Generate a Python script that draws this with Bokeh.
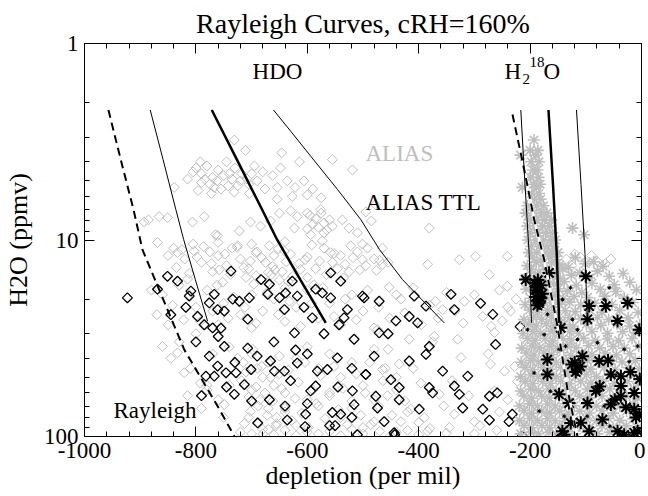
from bokeh.plotting import figure
from bokeh.models import Range1d, FixedTicker, PrintfTickFormatter, LinearAxis, LogAxis, CustomJSTickFormatter
from bokeh.core.properties import value
from bokeh.embed import file_html
from bokeh.resources import INLINE
import numpy as np

FONT = "Liberation Serif"
GRAY = "#bebebe"

# ---------------- axes ticks ----------------
x_major_ticks = [-1000, -800, -600, -400, -200, 0]
x_minor_ticks = list(range(-1000, 1, 40))
y_major_ticks = [1, 10, 100]
y_minor_ticks = [2, 3, 4, 5, 6, 7, 8, 9, 20, 30, 40, 50, 60, 70, 80, 90]

# ---------------- Rayleigh curves (HDO) ----------------
hdo_rayleigh_x = [-957, -935, -912, -896, -866, -821, -761, -731]
hdo_rayleigh_y = [2.18, 3.89, 7.0, 11.2, 17.9, 36.1, 70.1, 99.7]
hdo_c1_x = [-882, -859, -836, -822, -801, -779]
hdo_c1_y = [2.18, 3.89, 7.0, 9.94, 15.9, 25.9]
hdo_c2_x = [-771.5, -726.6, -681.2, -654.4, -612.6, -566.8]
hdo_c2_y = [2.18, 3.89, 7.0, 9.94, 15.9, 26.4]
hdo_c3_x = [-660.7, -629.6, -593.7, -545.8, -504, -470.4, -429.1, -354.2]
hdo_c3_y = [2.18, 2.80, 3.75, 5.53, 7.87, 11.18, 15.9, 26.4]

# ---------------- Rayleigh curves (H2 18O) ----------------
o18_rayleigh_x = [-231.6, -210.6, -192.7, -174.7, -150.8, -132.9, -114.9]
o18_rayleigh_y = [2.30, 4.38, 7.87, 12.6, 27.5, 57.7, 100]
o18_c1_x = [-216.7, -209.2, -201.6, -197.5]
o18_c1_y = [2.18, 5.22, 11.85, 26.4]
o18_c2_x = [-167, -158.9, -152.1, -147.8]
o18_c2_y = [2.18, 5.22, 11.85, 26.4]
o18_c3_x = [-116.7, -108.6, -101.4, -97]
o18_c3_y = [2.18, 5.22, 11.85, 26.4]

# ---------------- ALIAS HDO (gray diamonds) ----------------
hdo_alias_x = [
    -731, -711, -646, -614, -555, -519, -792,
    -800, -790, -780, -770, -760, -775, -755, -790, -745, -735, -720, -705,
    -740, -725, -695, -680, -700, -654, -704, -731, -839, -767, -654, -627, -600,
    -866, -893, -885, -851, -806, -785, -761, -722, -702, -684, -666, -650, -630, -618, -600,
    -595, -585, -575, -570, -560, -580, -565, -590, -576, -555, -600, -570,
    -623, -537, -525, -510, -501, -522, -594, -573, -558, -495, -485, -478, -381,
    -869, -833, -803, -765, -725, -693, -668, -641,
    -840, -820, -805, -790, -775, -760, -745, -735, -720, -705, -690, -675, -660, -645, -630, -615,
    -600, -585, -570, -555, -540, -525, -510, -495, -480, -465, -770, -710, -650, -600,
    -760, -700, -640, -665, -672, -658,
    -860, -830, -800, -780, -750, -720, -700, -680, -660, -640, -620, -600, -580, -560, -540, -520, -500, -480, -760, -700, -640,
    -830, -800, -770, -740, -715, -700, -690, -680, -670, -660, -650, -640, -700, -685, -670,
    -655, -690, -670, -640, -620, -600, -580, -560, -540, -520, -500, -480, -600, -580, -560,
    -540, -520, -500, -480, -620, -600, -460, -440, -420, -400, -440, -720, -750, -810, -780,
    -860, -833, -821, -792, -780, -749, -713, -702,
    -700, -680, -660, -640, -620, -600, -580, -560, -540, -520, -500, -470, -450, -420, -400, -380, -350, -300, -260,
    -501, -465, -384, -327, -298, -241, -273, -241, -453, -432, -370, -318, -235, -357, -250, -474, -417, -372,
    -330, -264, -210, -324, -435, -271, -465, -246, -223, -396, -363, -264, -300, -336, -414, -432, -486, -384,
    -135, -120, -110, -100, -90, -80, -65, -55, -40, -125,
    -850, -835, -825, -812, -798, -786, -772, -758, -748, -738, -726, -714, -702, -692, -682, -670, -662, -652, -638, -626,
    -612, -604, -592, -578, -566, -552, -546, -532, -518, -506, -492, -476, -470, -455, -815, -752, -696, -634, -588, -535,
    -815, -805, -796, -784, -772, -762, -750, -742, -730, -718, -708, -690, -676, -662, -648, -636, -622, -606, -590, -575,
    -880, -870, -850, -842, -822, -812, -792, -770, -762, -742, -732, -712, -692, -672, -652, -632, -612, -592, -572, -552,
    -532, -512, -492, -472, -452, -440, -425, -410, -395, -380, -365, -350, -335, -320, -300, -285, -270, -255, -240, -225,
    -725, -718, -710, -705, -698, -692, -688, -682, -676, -672, -666, -662, -656, -650, -646, -640, -634, -628, -622, -616,
    -610, -604, -598, -590, -584, -576, -568, -560, -552, -544, -536, -528, -520, -512, -504, -496, -488, -480, -472, -464,
    -456, -448, -740, -760, -790, -815, -845, -705, -680, -655,
    -455, -440, -425, -410, -390, -375, -355, -340, -310, -290, -275, -255, -240, -228, -345,
]
hdo_alias_y = [
    3.1, 3.5, 3.6, 4.0, 3.9, 4.4, 4.0,
    4.3, 4.6, 4.2, 4.8, 4.4, 5.2, 5.5, 5.1, 4.0, 4.9, 5.0, 5.2,
    4.6, 5.3, 4.2, 4.5, 4.6, 5.4, 5.8, 5.7, 5.4, 5.4, 6.2, 6.0, 5.9,
    7.6, 8.1, 7.9, 7.7, 8.1, 7.6, 9.5, 9.0, 8.1, 8.5, 8.0, 7.3, 7.1, 7.6, 7.3,
    7.5, 7.8, 7.3, 8.2, 7.9, 8.6, 8.9, 8.3, 7.0, 8.5, 8.8, 9.2,
    8.7, 7.9, 8.7, 9.2, 10.5, 10.7, 9.4, 10.1, 11.6, 7.2, 8.0, 6.6, 8.7,
    10.3, 11.6, 11.4, 9.4, 10.7, 11.6, 10.7, 11.4,
    11.0, 12.5, 10.5, 13.0, 11.5, 12.0, 13.5, 11.0, 12.5, 14.0, 11.5, 13.0, 12.0, 14.5, 11.8, 13.2,
    12.2, 14.0, 11.0, 13.0, 12.0, 14.5, 11.5, 13.5, 12.5, 11.0, 14.5, 15.5, 16.0, 15.5,
    10.3, 10.5, 10.2, 15.0, 16.5, 14.2,
    19, 17, 22, 18, 21, 24, 19, 23, 20, 26, 22, 18, 25, 21, 27, 19, 23, 28, 27, 28, 17.5,
    33, 30, 38, 35, 42, 38, 45, 50, 42, 55, 48, 60, 58, 65, 72,
    80, 85, 92, 75, 40, 35, 45, 38, 50, 42, 55, 36, 65, 70, 60,
    80, 72, 90, 65, 88, 95, 45, 58, 75, 85, 95, 95, 80, 45, 55,
    34.8, 37.5, 47.4, 53.5, 58, 68.8, 86, 74.5,
    97, 92, 98, 93, 99, 91, 97, 94, 99, 92, 97, 94, 99, 93, 98, 91, 96, 97, 93,
    12.6, 13.3, 13.3, 12.6, 12.1, 12.1, 15.0, 17.2, 17.4, 20.0, 20.5, 20.5, 23.0, 22.6, 25.8, 28.6, 32.0, 30.9,
    32.0, 29.6, 32.0, 39.6, 42.8, 42.8, 45.6, 46.5, 52.4, 53.5, 61.0, 58.6, 84.0, 77.0, 72.6, 84.0, 87.0, 94.0,
    12.5, 11.8, 12.2, 13.0, 12.0, 12.8, 13.2, 12.5, 18.5, 13.5,
    12.0, 13.8, 11.2, 14.8, 12.2, 10.8, 13.2, 14.2, 11.8, 15.0, 10.9, 13.8, 12.8, 15.2, 12.3, 14.6, 13.6, 11.1, 12.9, 15.3,
    14.1, 12.6, 10.6, 12.8, 15.0, 11.7, 14.0, 13.3, 12.3, 14.2, 11.0, 14.3, 12.7, 13.0, 15.8, 16.4, 16.8, 16.2, 16.9, 15.6,
    4.9, 4.5, 5.6, 4.9, 5.8, 5.0, 4.7, 5.3, 4.3, 4.6, 4.9, 5.0, 5.5, 4.7, 4.3, 5.0, 5.4, 5.0, 5.5, 6.1,
    18.0, 24.0, 27.0, 21.5, 25.5, 19.0, 26.0, 23.0, 17.0, 25.0, 19.5, 22.0, 26.5, 18.5, 24.0, 20.5, 27.5, 21.0, 17.5, 24.5,
    20.0, 25.5, 18.0, 22.0, 25.0, 19.0, 23.5, 17.5, 27.0, 21.5, 25.0, 18.5, 23.0, 26.5, 19.0, 24.5, 27.5, 18.0, 22.0, 20.0,
    40, 52, 47, 63, 36, 56, 70, 44, 60, 78, 50, 66, 88, 39, 57, 72, 46, 83, 64, 53,
    76, 42, 90, 58, 68, 49, 81, 62, 44, 73, 57, 87, 66, 48, 78, 60, 42, 84, 70, 52,
    62, 78, 55, 65, 72, 62, 40, 80, 97, 86,
    36, 50, 66, 45, 80, 33, 70, 52, 62, 88, 38, 75, 65, 44, 90,
]

# ---------------- ALIAS TTL HDO (black diamonds) ----------------
hdo_ttl_x = [
    -923, -851, -833, -869, -809, -812, -818, -797, -776, -767, -785, -770,
    -761, -749, -737, -734, -755, -722, -704, -707, -683, -668, -671, -650,
    -641, -639, -618, -627, -606, -591, -585, -573, -558, -558, -540, -528,
    -534, -543, -501, -516, -623, -707, -749, -776, -761, -782, -767, -746,
    -728, -731, -713, -701, -666, -659, -668, -641, -618, -621, -594, -585,
    -582, -564, -546, -555, -540, -516, -519, -495, -477, -689, -636, -603, -550,
    -498, -471, -408, -387, -342, -336, -289, -267, -441, -417, -402, -218,
    -471, -381, -387, -262, -417, -495, -450, -435, -435, -357, -336, -327,
    -312, -381, -375, -273, -259, -474, -462, -399, -321, -285, -273, -238, -232, -444, -214,
    -510, -443, -604,
    -845, -800, -760, -730, -690, -660, -630, -600, -570, -545,
    -520, -480, -455, -790, -745, -700, -640, -600, -560, -520,
]
hdo_ttl_y = [
    19.7, 15.3, 16.2, 17.8, 18.2, 19.3, 22.0, 24.5, 20.9, 18.9, 27.0, 28.0,
    22.6, 23.0, 14.4, 20.0, 28.1, 20.5, 19.7, 25.3, 15.9, 16.8, 18.9, 19.7,
    22.6, 18.6, 19.3, 16.2, 22.0, 24.9, 17.8, 18.6, 19.7, 14.7, 16.2, 22.6,
    24.9, 27.0, 19.3, 32.0, 29.7, 35.5, 34.8, 39.0, 43.8, 49.3, 49.3, 47.4,
    47.4, 61.0, 54.4, 45.6, 41.3, 46.5, 65.0, 46.5, 42.3, 36.3, 58.6, 55.3,
    46.5, 45.6, 39.8, 75.5, 77.0, 68.8, 58.6, 48.3, 62.4, 85.3, 82.5, 77.0, 88.0,
    19.7, 20.5, 19.3, 21.7, 18.9, 22.6, 21.0, 23.9, 25.8, 24.5, 26.4, 27.6,
    29.7, 34.8, 38.2, 34.0, 41.3, 48.3, 51.4, 56.3, 65.0, 46.5, 55.3, 61.0,
    49.3, 56.3, 60.0, 62.4, 60.0, 71.6, 84.0, 72.6, 71.6, 72.6, 82.5, 84.0, 77.0, 95.7, 99.5,
    98.0, 98.0, 89.0,
    24, 33, 31, 42, 39, 33, 52, 38, 30, 56,
    45, 39, 30, 62, 56, 66, 70, 68, 88, 80,
]

# ---------------- ALIAS H2 18O (gray asterisks) ----------------
o18_alias_x = [
    -193, -200, -186, -217, -190, -198, -184, -195, -187, -199, -185,
    -194, -182, -214, -189, -197, -184, -192, -181,
    -205, -188, -176,
    -208, -195, -180, -170,
    -201, -188, -174, -162,
    -205, -192, -178, -165, -124,
    -200, -186, -172, -160, -103,
    -204, -190, -176, -163, -155,
    -198, -183, -169, -158,
    -202, -188, -174, -160, -150,
    -196, -181, -166, -153, -119, -86,
    -205, -189, -175, -161, -147, -131, -101, -69,
    -198, -184, -169, -154, -141, -111, -79, -33,
    -206, -191, -176, -159, -146, -126, -94, -58,
    -201, -185, -171, -157, -139, -117, -89, -49, -21,
    -207, -193, -177, -163, -149, -133, -107, -74, -46, -9,
    -199, -184, -171, -154, -141, -121, -97, -66, -31,
    -209, -193, -179, -161, -147, -129, -109, -84, -53, -16,
    -201, -187, -169, -155, -137, -119, -94, -71, -39, -6,
    -211, -194, -179, -161, -147, -129, -109, -79, -59, -24,
    -203, -189, -171, -157, -139, -123, -99, -73, -44, -21, -3,
    -213, -195, -181, -163, -149, -129, -113, -89, -61, -34, -11,
    -205, -191, -173, -159, -141, -126, -104, -83, -61, -41, -17,
    -215, -197, -183, -165, -151, -133, -117, -95, -75, -51, -31, -5,
    -207, -193, -175, -161, -143, -127, -107, -89, -65, -45, -21,
    -216, -199, -185, -167, -153, -135, -119, -97, -79, -55, -35, -11,
    -209, -195, -177, -163, -145, -129, -109, -91, -67, -47, -23, -4,
    -217, -199, -185, -167, -153, -135, -119, -99, -81, -57, -37, -13,
    -209, -195, -177, -163, -145, -129, -109, -91, -69, -49, -25, -6,
    -217, -199, -185, -167, -153, -135, -119, -97, -79, -57, -37, -14,
    -211, -197, -179, -165, -147, -131, -111, -93, -71, -51, -27, -7,
    -219, -201, -187, -169, -155, -137, -121, -99, -81, -59, -39, -15,
    -211, -197, -179, -165, -147, -131, -111, -93, -71, -51, -27, -7,
    -219, -201, -187, -169, -155, -137, -121, -99, -81, -59, -39, -15,
    -211, -197, -179, -165, -147, -131, -111, -93, -71, -51, -27, -7,
    -217, -199, -185, -167, -153, -135, -119, -97, -79, -57, -37, -14,
]
o18_alias_y = [
    3.1, 3.5, 3.5, 3.7, 3.7, 4.0, 4.0, 4.4, 4.4, 4.8, 4.8,
    5.2, 5.2, 5.4, 5.4, 5.8, 5.8, 6.2, 6.2,
    6.7, 6.7, 6.7,
    7.3, 7.3, 7.3, 7.3,
    7.9, 7.9, 7.9, 7.9,
    8.5, 8.5, 8.5, 8.5, 8.7,
    9.2, 9.2, 9.2, 9.2, 9.4,
    10.0, 10.0, 10.0, 10.0, 10.0,
    10.8, 10.8, 10.8, 10.8,
    11.6, 11.6, 11.6, 11.6, 11.6,
    12.2, 12.7, 12.1, 12.6, 12.3, 12.9,
    13.5, 13.0, 13.6, 13.1, 13.4, 13.8, 13.2, 13.6,
    14.1, 14.6, 14.2, 14.5, 14.0, 14.7, 14.4, 14.8,
    15.6, 15.2, 15.8, 15.3, 15.7, 15.1, 15.6, 15.3,
    16.4, 16.9, 16.5, 16.8, 16.3, 17.0, 16.6, 16.9, 16.4,
    17.8, 18.3, 17.9, 18.4, 17.7, 18.2, 18.5, 17.8, 18.3, 17.9,
    19.8, 19.3, 19.7, 19.2, 19.9, 19.4, 19.6, 19.3, 19.8,
    21.3, 20.8, 21.4, 20.9, 21.2, 20.7, 21.4, 21.0, 21.3, 20.8,
    22.7, 23.3, 22.8, 23.4, 22.9, 23.2, 22.6, 23.3, 22.8, 23.4,
    25.4, 24.8, 25.3, 24.7, 25.5, 24.9, 25.2, 24.8, 25.4, 24.9,
    26.8, 27.4, 26.7, 27.3, 26.9, 27.5, 26.8, 27.2, 26.7, 27.4, 27.0,
    29.9, 29.2, 29.8, 29.1, 29.7, 29.3, 29.9, 29.2, 29.8, 29.3, 29.6,
    31.6, 32.4, 31.7, 32.5, 31.8, 32.3, 31.6, 32.4, 31.9, 32.5, 31.7,
    35.5, 34.6, 35.4, 34.7, 35.6, 34.8, 35.3, 34.5, 35.4, 34.8, 35.5, 34.7,
    37.6, 38.5, 37.7, 38.4, 37.5, 38.6, 37.8, 38.3, 37.6, 38.5, 37.9,
    41.9, 41.0, 41.8, 41.1, 42.0, 41.2, 41.7, 41.0, 41.9, 41.2, 41.8, 41.1,
    44.5, 45.6, 44.6, 45.5, 44.4, 45.7, 44.7, 45.4, 44.5, 45.6, 44.6, 45.3,
    49.6, 48.5, 49.5, 48.4, 49.7, 48.6, 49.4, 48.5, 49.6, 48.4, 49.5, 48.6,
    52.4, 53.7, 52.5, 53.6, 52.3, 53.8, 52.6, 53.5, 52.4, 53.7, 52.5, 53.6,
    58.7, 57.4, 58.6, 57.3, 58.8, 57.5, 58.5, 57.4, 58.7, 57.3, 58.6, 57.5,
    62.2, 63.8, 62.4, 63.7, 62.1, 63.9, 62.3, 63.6, 62.2, 63.8, 62.4, 63.7,
    69.9, 68.2, 69.8, 68.3, 70.0, 68.1, 69.7, 68.4, 69.9, 68.2, 69.8, 68.3,
    74.0, 76.0, 74.2, 75.8, 74.1, 76.1, 74.3, 75.9, 74.0, 76.0, 74.2, 75.8,
    83.0, 81.0, 82.8, 81.2, 83.1, 80.9, 82.9, 81.1, 83.0, 81.0, 82.8, 81.2,
    88.0, 90.2, 88.2, 90.0, 88.1, 90.3, 88.3, 90.1, 88.0, 90.2, 88.2, 90.0,
    97.0, 95.0, 96.8, 95.2, 97.1, 94.9, 96.9, 95.1, 97.0, 95.0, 96.8, 95.2,
]

# ---------------- ALIAS TTL H2 18O (black asterisks) ----------------
o18_ttl_x = [
    -208, -166, -192, -188, -185, -190, -183, -187, -180, -186, -181, -189, -178, -184,
    -100, -94, -97, -64, -43, -25, -4,
    -169, -169, -106, -115, -125, -118, -110, -120,
    -76, -55, -37, -37, -82, -37, -13, -148, -130, -97, -55, -13, -10,
    -127, -109, -142, -94, -31, -13, -139, -145,
    -75, -48, -28, -4, -70, -43, -7, -60, -20, -3,
]
o18_ttl_y = [
    15.9, 14.7, 16.5, 17.5, 18.5, 19.5, 20.5, 21.5, 17.0, 16.0, 19.8, 18.0, 18.8, 21.0,
    15.3, 21.7, 25.3, 21.7, 25.8, 20.9, 28.6,
    40.6, 48.3, 39.0, 45.6, 43.0, 47.0, 44.0, 42.0,
    41.3, 48.3, 49.3, 55.3, 58.6, 62.4, 60.0, 61.0, 67.6, 67.6, 68.8, 72.6, 80.0,
    85.3, 85.0, 94.0, 94.0, 98.0, 95.7, 98.0, 28.0,
    55.6, 65.0, 71.0, 77.0, 82.0, 94.0, 94.0, 41.0, 47.0, 51.0,
]
# small black specks (TTL H2 18O points drawn small)
o18_ttl_small_x = [-168.8, -141.8, -123.9, -174.7, -136.4, -147.8, -114.9, -66.9, -58, -127.5,
                   -114.9, -79, -31, -163.5, -183.7, -138.8, -97.5, -56.7, -67, -192.7,
                   -22, -7, -151, -177.7, -204.7]
o18_ttl_small_y = [23.9, 20.1, 25.4, 30.3, 34.7, 36.0, 28.6, 20.1, 17.5, 17.5,
                   32.1, 33.3, 36.0, 58.9, 74.3, 78.9, 78.9, 88.7, 70.1, 47.5,
                   41.6, 34.7, 99.7, 20.1, 28.6]

# ---------------- figure ----------------
p = figure(frame_width=557, frame_height=393,
           x_range=Range1d(-1000, 0), y_range=Range1d(100, 1),
           y_axis_type="log", output_backend="svg", toolbar_location=None,
           min_border_left=79, min_border_right=4, min_border_top=36, min_border_bottom=59,
           title="Rayleigh Curves, cRH=160%")
p.xgrid.visible = False
p.ygrid.visible = False
p.outline_line_color = "black"
p.outline_line_width = 1
p.title.align = "center"
p.title.text_font = FONT
p.title.text_font_size = "28px"
p.title.text_font_style = "normal"
p.title.text_color = "black"


def style_axis(ax, show_labels=True):
    ax.major_tick_in = 10
    ax.major_tick_out = 0
    ax.minor_tick_in = 5
    ax.minor_tick_out = 0
    ax.axis_line_color = "black"
    ax.major_tick_line_color = "black"
    ax.minor_tick_line_color = "black"
    ax.major_label_text_font = FONT
    ax.major_label_text_color = "black"
    ax.axis_label_text_font = FONT
    ax.axis_label_text_font_size = "26px"
    ax.axis_label_text_font_style = "normal"
    ax.axis_label_text_color = "black"
    if show_labels:
        ax.major_label_text_font_size = "23px"
        ax.major_label_standoff = 6
    else:
        ax.major_label_text_font_size = "0px"
        ax.major_label_standoff = 0


xt = FixedTicker(ticks=x_major_ticks, minor_ticks=x_minor_ticks)
yt = FixedTicker(ticks=y_major_ticks, minor_ticks=y_minor_ticks)
p.xaxis.ticker = xt
p.yaxis.ticker = yt
p.xaxis.formatter = PrintfTickFormatter(format="%d")
p.yaxis.formatter = PrintfTickFormatter(format="%d")
p.xaxis.axis_label = "depletion (per mil)"
p.yaxis.axis_label = "H2O (ppmv)"
style_axis(p.xaxis[0])
style_axis(p.yaxis[0])
p.xaxis.axis_label_standoff = 0
p.yaxis.axis_label_standoff = 8

empty = CustomJSTickFormatter(code="return ''")
top_axis = LinearAxis(ticker=xt, formatter=empty)
right_axis = LogAxis(ticker=yt, formatter=empty)
style_axis(top_axis, False)
style_axis(right_axis, False)
p.add_layout(top_axis, "above")
p.add_layout(right_axis, "right")

# scatter data
p.scatter(hdo_alias_x, hdo_alias_y, marker="square", angle=np.pi / 4, size=7,
          fill_color=None, line_color=GRAY, line_width=1)
p.scatter(hdo_ttl_x, hdo_ttl_y, marker="square", angle=np.pi / 4, size=7,
          fill_color=None, line_color="black", line_width=1.3)
p.scatter(o18_alias_x, o18_alias_y, marker="asterisk", size=12,
          line_color=GRAY, line_width=1.6)
p.scatter(o18_ttl_small_x, o18_ttl_small_y, marker="asterisk", size=4,
          line_color="black", line_width=1)
p.scatter(o18_ttl_x, o18_ttl_y, marker="asterisk", size=13,
          line_color="black", line_width=2)

# curves
p.line(hdo_rayleigh_x, hdo_rayleigh_y, line_color="black", line_width=2, line_dash="8 5")
p.line(hdo_c1_x, hdo_c1_y, line_color="black", line_width=1)
p.line(hdo_c2_x, hdo_c2_y, line_color="black", line_width=2.5)
p.line(hdo_c3_x, hdo_c3_y, line_color="black", line_width=1)
p.line(o18_rayleigh_x, o18_rayleigh_y, line_color="white", line_width=2.5)
p.line(o18_rayleigh_x, o18_rayleigh_y, line_color="black", line_width=2, line_dash="8 5")
p.line(o18_c1_x, o18_c1_y, line_color="black", line_width=1)
p.line(o18_c2_x, o18_c2_y, line_color="black", line_width=2.5)
p.line(o18_c3_x, o18_c3_y, line_color="black", line_width=1)


# labels
def txt(x, y, s, size="23px", color="black", align="left"):
    p.text(x=[x], y=[y], text=[s], text_font=value(FONT), text_font_size=size,
           text_color=color, text_align=align, text_baseline="middle")


txt(-653.5, 1.39, "HDO", align="center")
txt(-246, 1.39, "H")
txt(-213.5, 1.52, "2", size="15px")
txt(-201, 1.24, "18", size="15px")
txt(-176, 1.39, "O")
txt(-495.5, 3.65, "ALIAS", color=GRAY)
txt(-495.5, 6.42, "ALIAS TTL")
txt(-948, 73.7, "Rayleigh")

open("out.html", "w").write(file_html(p, INLINE))
